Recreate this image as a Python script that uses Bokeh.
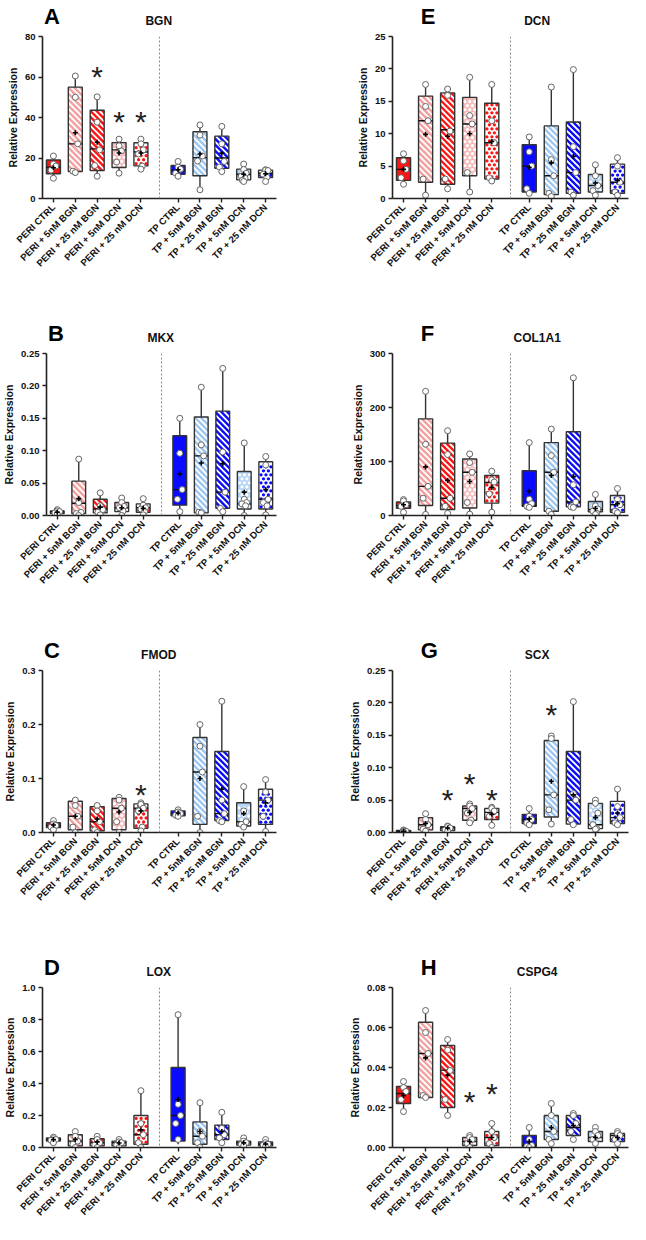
import math
from bokeh.plotting import figure
from bokeh.layouts import column, row
from bokeh.models import Range1d, FixedTicker, Span
from bokeh.core.properties import value
from bokeh.embed import file_html
from bokeh.resources import INLINE

groups = ["PERI CTRL", "PERI + 5nM BGN", "PERI + 25 nM BGN", "PERI + 5nM DCN", "PERI + 25 nM DCN",
          "TP CTRL", "TP + 5nM BGN", "TP + 25 nM BGN", "TP + 5nM DCN", "TP + 25 nM DCN"]

# ---------------- A: BGN ----------------
bgn_ticks = [0, 20, 40, 60, 80]
bgn_tick_labels = ["0", "20", "40", "60", "80"]
bgn_min = [10, 12.8, 11, 12.5, 14.5, 11, 4.3, 13.3, 8.4, 8.4]
bgn_q1 = [12.2, 13.3, 13.8, 15.3, 16.1, 12, 11.2, 14.9, 9.2, 10.4]
bgn_med = [15.5, 27, 24.5, 24, 23, 14, 20.2, 20, 12, 12.5]
bgn_q3 = [19, 55, 43.6, 27.6, 27.5, 16.3, 33, 30.8, 14.5, 14]
bgn_max = [21, 60.5, 50.2, 29.3, 29.3, 18.3, 36.3, 35.6, 17, 14.2]
bgn_mean = [15.2, 32.5, 27.8, 22.5, 22.5, 14.2, 22, 22.4, 12, 12.2]
bgn_pts = [[21, 17, 16, 14, 10], [60.5, 50, 27, 13.5, 12.8], [50.2, 37.7, 24, 16.3, 11],
           [29.3, 26, 23.5, 18, 12.5], [29.3, 27, 24, 22, 16, 14.5], [18.3, 15.5, 14.5, 12.5, 11],
           [36.3, 31.3, 21, 18.5, 4.3], [35.6, 27, 18.3, 15.5, 13.3], [17, 14.3, 12.5, 11, 10, 9, 8.4],
           [14.2, 14, 13.8, 12, 10.5, 8.4]]
bgn_star = [None, None, 64, 42, 42, None, None, None, None, None]

# ---------------- B: MKX ----------------
mkx_ticks = [0, 0.05, 0.10, 0.15, 0.20, 0.25]
mkx_tick_labels = ["0.00", "0.05", "0.10", "0.15", "0.20", "0.25"]
mkx_min = [0.002, 0.0, 0.001, 0.0, 0.001, 0.006, 0.004, 0.006, 0.0, 0.001]
mkx_q1 = [0.003, 0.003, 0.004, 0.006, 0.005, 0.016, 0.004, 0.011, 0.010, 0.010]
mkx_med = [0.006, 0.019, 0.010, 0.012, 0.012, 0.040, 0.092, 0.036, 0.018, 0.025]
mkx_q3 = [0.007, 0.053, 0.025, 0.020, 0.018, 0.123, 0.152, 0.161, 0.068, 0.083]
mkx_max = [0.009, 0.087, 0.035, 0.027, 0.026, 0.150, 0.198, 0.227, 0.112, 0.091]
mkx_mean = [0.005, 0.026, 0.013, 0.012, 0.011, 0.064, 0.081, 0.080, 0.036, 0.040]
mkx_pts = [[0.009, 0.007, 0.006, 0.004, 0.002], [0.087, 0.020, 0.005, 0.003, 0.0],
           [0.035, 0.015, 0.009, 0.005, 0.001], [0.027, 0.020, 0.014, 0.012, 0.007, 0.0],
           [0.026, 0.016, 0.012, 0.010, 0.006, 0.001], [0.150, 0.096, 0.040, 0.025, 0.006],
           [0.198, 0.109, 0.092, 0.005, 0.004], [0.227, 0.098, 0.036, 0.011, 0.006],
           [0.112, 0.025, 0.020, 0.018, 0.015, 0.0], [0.091, 0.078, 0.025, 0.020, 0.015, 0.001]]
mkx_star = [None] * 10

# ---------------- C: FMOD ----------------
fmod_ticks = [0, 0.1, 0.2, 0.3]
fmod_tick_labels = ["0.0", "0.1", "0.2", "0.3"]
fmod_min = [0.005, 0.000, 0.000, 0.000, 0.003, 0.030, 0.000, 0.020, 0.010, 0.002]
fmod_q1 = [0.009, 0.005, 0.003, 0.005, 0.008, 0.031, 0.015, 0.022, 0.012, 0.015]
fmod_med = [0.013, 0.030, 0.020, 0.045, 0.045, 0.035, 0.112, 0.035, 0.020, 0.060]
fmod_q3 = [0.018, 0.058, 0.048, 0.063, 0.053, 0.040, 0.176, 0.150, 0.055, 0.080]
fmod_max = [0.022, 0.060, 0.050, 0.065, 0.055, 0.042, 0.200, 0.243, 0.085, 0.098]
fmod_mean = [0.014, 0.030, 0.025, 0.038, 0.040, 0.036, 0.100, 0.080, 0.035, 0.055]
fmod_pts = [[0.022, 0.016, 0.013, 0.010, 0.005], [0.060, 0.050, 0.030, 0.010, 0.000],
            [0.050, 0.040, 0.020, 0.005, 0.000], [0.065, 0.060, 0.045, 0.020, 0.000],
            [0.055, 0.052, 0.045, 0.040, 0.010, 0.003], [0.042, 0.038, 0.035, 0.032, 0.030],
            [0.200, 0.160, 0.112, 0.030, 0.000], [0.243, 0.060, 0.035, 0.022, 0.020],
            [0.085, 0.040, 0.020, 0.015, 0.010], [0.098, 0.075, 0.060, 0.030, 0.002]]
fmod_star = [None, None, None, None, 0.085, None, None, None, None, None]

# ---------------- D: LOX ----------------
lox_ticks = [0, 0.2, 0.4, 0.6, 0.8, 1.0]
lox_tick_labels = ["0.0", "0.2", "0.4", "0.6", "0.8", "1.0"]
lox_min = [0.030, 0.000, 0.000, 0.000, 0.000, 0.020, 0.000, 0.030, 0.010, 0.005]
lox_q1 = [0.040, 0.010, 0.010, 0.010, 0.020, 0.040, 0.020, 0.050, 0.015, 0.010]
lox_med = [0.050, 0.040, 0.030, 0.030, 0.080, 0.200, 0.070, 0.080, 0.030, 0.020]
lox_q3 = [0.060, 0.080, 0.055, 0.040, 0.200, 0.500, 0.160, 0.140, 0.040, 0.035]
lox_max = [0.065, 0.100, 0.070, 0.050, 0.355, 0.830, 0.280, 0.220, 0.060, 0.050]
lox_mean = [0.050, 0.050, 0.035, 0.028, 0.110, 0.300, 0.100, 0.100, 0.030, 0.022]
lox_pts = [[0.065, 0.055, 0.050, 0.045, 0.030], [0.100, 0.070, 0.040, 0.020, 0.000],
           [0.070, 0.050, 0.030, 0.015, 0.000], [0.050, 0.035, 0.030, 0.015, 0.000],
           [0.355, 0.150, 0.080, 0.030, 0.000], [0.830, 0.270, 0.200, 0.150, 0.050],
           [0.280, 0.100, 0.070, 0.030, 0.000], [0.220, 0.120, 0.080, 0.060, 0.030],
           [0.060, 0.040, 0.030, 0.020, 0.010], [0.050, 0.030, 0.020, 0.015, 0.005]]
lox_star = [None] * 10

# ---------------- E: DCN ----------------
dcn_ticks = [0, 5, 10, 15, 20, 25]
dcn_tick_labels = ["0", "5", "10", "15", "20", "25"]
dcn_min = [2.2, 0.5, 1.5, 1.0, 2.7, 0.8, 0.3, 0.5, 0.5, 0.5]
dcn_q1 = [2.8, 2.5, 2.2, 3.5, 3.0, 1.0, 0.6, 0.8, 1.0, 0.8]
dcn_med = [4.5, 12.0, 10.6, 11.5, 8.6, 5.0, 3.5, 4.0, 2.0, 2.5]
dcn_q3 = [6.3, 15.8, 16.3, 15.6, 14.7, 8.3, 11.2, 11.8, 3.7, 5.3]
dcn_max = [6.9, 17.6, 16.9, 18.7, 17.6, 9.5, 17.2, 19.9, 5.2, 6.3]
dcn_mean = [4.5, 9.9, 9.6, 10.0, 8.8, 4.8, 5.5, 6.5, 2.4, 2.8]
dcn_pts = [[6.9, 5.8, 4.5, 3.2, 2.2], [17.6, 14.2, 12.0, 3.0, 0.5], [16.9, 15.9, 10.4, 3.0, 1.5],
           [18.7, 12.8, 11.5, 4.0, 1.0], [17.6, 12.0, 8.6, 3.2, 2.7], [9.5, 7.2, 5.0, 1.5, 0.8],
           [17.2, 6.0, 3.5, 0.8, 0.3], [19.9, 8.0, 4.0, 1.0, 0.5], [5.2, 3.5, 2.0, 1.2, 0.5],
           [6.3, 5.0, 2.5, 1.0, 0.5]]
dcn_star = [None] * 10

# ---------------- F: COL1A1 ----------------
col_ticks = [0, 100, 200, 300]
col_tick_labels = ["0", "100", "200", "300"]
col_min = [6, 2, 4, 2.5, 6, 15, 2, 15, 2, 5]
col_q1 = [13.5, 18.4, 11, 14, 23, 17, 8, 16, 7, 6]
col_med = [18, 54, 32, 80, 61, 18, 80, 25, 11, 20]
col_q3 = [25, 179, 134, 104.5, 74, 83, 135, 155, 26, 37]
col_max = [29.5, 230, 157, 114, 82, 135, 160, 255, 39, 50]
col_mean = [20, 90, 65, 63, 52, 45, 74, 72, 13, 22]
col_pts = [[29.5, 27, 20, 17, 6], [230, 132, 54, 32, 2], [157, 113, 32, 17, 4], [114, 98, 80, 24, 2.5],
           [82, 66, 62, 40, 6], [135, 30, 22, 17, 15], [160, 111, 80, 8, 2], [255, 57, 25, 16, 15],
           [39, 18, 12, 8, 4, 2], [50, 30, 20, 8, 5]]
col_star = [None] * 10

# ---------------- G: SCX ----------------
scx_ticks = [0, 0.05, 0.10, 0.15, 0.20, 0.25]
scx_tick_labels = ["0.00", "0.05", "0.10", "0.15", "0.20", "0.25"]
scx_min = [0.001, 0.002, 0.002, 0.015, 0.011, 0.012, 0.013, 0.012, 0.005, 0.012]
scx_q1 = [0.001, 0.004, 0.003, 0.019, 0.020, 0.014, 0.024, 0.013, 0.006, 0.014]
scx_med = [0.002, 0.012, 0.007, 0.037, 0.031, 0.020, 0.058, 0.050, 0.012, 0.023]
scx_q3 = [0.003, 0.023, 0.009, 0.041, 0.037, 0.028, 0.142, 0.125, 0.045, 0.048]
scx_max = [0.004, 0.029, 0.010, 0.044, 0.039, 0.037, 0.149, 0.202, 0.050, 0.067]
scx_mean = [0.002, 0.014, 0.007, 0.031, 0.028, 0.021, 0.079, 0.058, 0.023, 0.030]
scx_pts = [[0.004, 0.003, 0.002, 0.001, 0.001], [0.029, 0.020, 0.012, 0.005, 0.002],
           [0.010, 0.009, 0.007, 0.004, 0.002], [0.044, 0.041, 0.037, 0.030, 0.019, 0.015],
           [0.039, 0.037, 0.033, 0.025, 0.011], [0.037, 0.025, 0.020, 0.015, 0.012],
           [0.149, 0.145, 0.058, 0.035, 0.013], [0.202, 0.060, 0.050, 0.020, 0.012],
           [0.050, 0.045, 0.030, 0.012, 0.006, 0.005], [0.067, 0.040, 0.023, 0.015, 0.012]]
scx_star = [None, None, 0.063, 0.088, 0.063, None, 0.194, None, None, None]

# ---------------- H: CSPG4 ----------------
csp_ticks = [0, 0.02, 0.04, 0.06, 0.08]
csp_tick_labels = ["0.00", "0.02", "0.04", "0.06", "0.08"]
csp_min = [0.018, 0.025, 0.016, 0.000, 0.000, 0.000, 0.002, 0.004, 0.002, 0.002]
csp_q1 = [0.022, 0.025, 0.020, 0.001, 0.001, 0.0005, 0.004, 0.006, 0.003, 0.003]
csp_med = [0.027, 0.047, 0.0387, 0.003, 0.005, 0.001, 0.008, 0.010, 0.005, 0.006]
csp_q3 = [0.0305, 0.0626, 0.051, 0.005, 0.008, 0.006, 0.016, 0.016, 0.008, 0.007]
csp_max = [0.033, 0.0685, 0.054, 0.006, 0.012, 0.010, 0.022, 0.017, 0.010, 0.008]
csp_mean = [0.026, 0.0448, 0.0362, 0.003, 0.005, 0.003, 0.010, 0.011, 0.005, 0.005]
csp_pts = [[0.033, 0.030, 0.028, 0.024, 0.018], [0.0685, 0.0575, 0.047, 0.026, 0.025],
           [0.054, 0.0487, 0.0385, 0.024, 0.016], [0.006, 0.005, 0.004, 0.002, 0.0],
           [0.012, 0.008, 0.005, 0.002, 0.0], [0.010, 0.004, 0.001, 0.0005, 0.0],
           [0.022, 0.016, 0.008, 0.004, 0.002], [0.017, 0.016, 0.012, 0.008, 0.004],
           [0.010, 0.008, 0.006, 0.004, 0.002], [0.008, 0.007, 0.006, 0.004, 0.002]]
csp_star = [None, None, None, 0.027, 0.031, None, None, None, None, None]

# ---------------- layout / style ----------------
POS = [0, 1, 2, 3, 4, 5.7, 6.7, 7.7, 8.7, 9.7]
X_START, X_END = -0.5, 10.2
DIVIDER = 4.85
BOXW = 0.64
FONT = "Liberation Sans"
# base = box colour, kind = texture, pat = colour of the texture marks
STYLES = [
    dict(base="#ff1414", kind=None, pat=None),
    dict(base="#f4a0a0", kind="stripe", pat="#ffffff"),
    dict(base="#ff1414", kind="stripe", pat="#ffffff"),
    dict(base="#f6bcbc", kind="dot", pat="#ffffff"),
    dict(base="#ffffff", kind="dot", pat="#ff1414"),
    dict(base="#0a0aff", kind=None, pat=None),
    dict(base="#9cc6f0", kind="stripe", pat="#ffffff"),
    dict(base="#0a0aff", kind="stripe", pat="#ffffff"),
    dict(base="#b4d5f5", kind="dot", pat="#ffffff"),
    dict(base="#ffffff", kind="dot", pat="#0a0aff"),
]
OFFS = [0.0, 0.11, -0.11, 0.06, -0.06, 0.13, -0.13]
FRAME_H = 162
HEAD_H = 30
TOP_B = 6
LEFT_GEOM = dict(w=320, bl=42, br=44)
RIGHT_GEOM = dict(w=310, bl=72, br=2)


def header(letter, title, left_col):
    g = LEFT_GEOM if left_col else RIGHT_GEOM
    w = g["w"]
    h = figure(width=w, height=HEAD_H, x_range=Range1d(0, w), y_range=Range1d(0, HEAD_H),
               output_backend="svg", toolbar_location=None, tools="",
               x_axis_type=None, y_axis_type=None,
               min_border_left=0, min_border_right=0, min_border_top=0, min_border_bottom=0)
    h.outline_line_color = None
    h.grid.visible = False
    lx = 2 if left_col else 37
    h.text(x=[lx], y=[14], text=[letter], text_font=value(FONT), text_font_style="bold",
           text_font_size="22px", text_baseline="alphabetic", text_align="left", text_color="#000000")
    cx = g["bl"] + (w - g["bl"] - g["br"]) / 2
    h.text(x=[cx], y=[10], text=[title], text_font=value(FONT), text_font_style="bold",
           text_font_size="12px", text_baseline="alphabetic", text_align="center", text_color="#111111")
    return h


def add_stripes(p, xc, y0, y1, ppx, ppy, color, step=6.0, lw=1.9):
    W = BOXW * ppx
    H = (y1 - y0) * ppy
    xl = xc - BOXW / 2
    a0, b0, a1, b1 = [], [], [], []
    c = step * 0.5
    while c < W + H:
        lo = max(0.0, c - H)
        hi = min(W, c)
        if hi > lo:
            a0.append(xl + lo / ppx)
            b0.append(y0 + (c - lo) / ppy)
            a1.append(xl + hi / ppx)
            b1.append(y0 + (c - hi) / ppy)
        c += step
    if a0:
        p.segment(x0=a0, y0=b0, x1=a1, y1=b1, line_color=color, line_width=lw, line_cap="butt")


def add_dots(p, xc, y0, y1, ppx, ppy, color, sx=5.0, sy=4.0, size=3.3):
    W = BOXW * ppx
    H = (y1 - y0) * ppy
    xl = xc - BOXW / 2
    xs, ys = [], []
    r = 0
    py = 2.2
    while py < H - 1.2:
        px = 2.2 + (sx / 2 if r % 2 else 0.0)
        while px < W - 1.2:
            xs.append(xl + px / ppx)
            ys.append(y0 + py / ppy)
            px += sx
        py += sy
        r += 1
    if xs:
        p.scatter(x=xs, y=ys, size=size, fill_color=color, line_color=None)


def panel(ticks, tick_labels, mins, q1s, meds, q3s, maxs, means, pts, stars, left_col, height):
    g = LEFT_GEOM if left_col else RIGHT_GEOM
    top = ticks[-1]
    frame_w = g["w"] - g["bl"] - g["br"]
    ppx = frame_w / (X_END - X_START)
    ppy = FRAME_H / top
    p = figure(width=g["w"], height=height, x_range=Range1d(X_START, X_END), y_range=Range1d(0, top),
               output_backend="svg", toolbar_location=None, tools="",
               min_border_left=g["bl"], min_border_right=g["br"], min_border_top=TOP_B,
               min_border_bottom=height - TOP_B - FRAME_H)
    p.outline_line_color = None
    p.grid.visible = False
    p.background_fill_color = "white"
    p.border_fill_color = "white"

    for ax in (p.xaxis[0], p.yaxis[0]):
        ax.axis_line_width = 1.6
        ax.axis_line_color = "#222222"
        ax.major_tick_line_color = "#222222"
        ax.major_tick_line_width = 1.4
        ax.major_tick_out = 4
        ax.major_tick_in = 0
        ax.minor_tick_line_color = None
        ax.major_label_text_font = FONT
        ax.major_label_text_font_style = "bold"
        ax.major_label_text_font_size = "9.5px"
        ax.major_label_text_color = "#111111"
        ax.major_label_standoff = 3

    p.xaxis.ticker = FixedTicker(ticks=POS)
    p.xaxis.major_label_overrides = {pp: gname for pp, gname in zip(POS, groups)}
    p.xaxis.major_label_orientation = math.pi / 4

    p.yaxis.ticker = FixedTicker(ticks=ticks)
    p.yaxis.major_label_overrides = {t: s for t, s in zip(ticks, tick_labels)}
    p.yaxis.axis_label = "Relative Expression"
    p.yaxis.axis_label_text_font = FONT
    p.yaxis.axis_label_text_font_style = "bold"
    p.yaxis.axis_label_text_font_size = "10.5px"
    p.yaxis.axis_label_text_color = "#111111"
    p.yaxis.axis_label_standoff = 3

    p.add_layout(Span(location=DIVIDER, dimension="height", line_color="#8a8a8a",
                      line_dash="2 2", line_width=1))

    for i in range(10):
        x = POS[i]
        st = STYLES[i]
        p.segment(x0=[x, x], y0=[q3s[i], mins[i]], x1=[x, x], y1=[maxs[i], q1s[i]],
                  line_color="#333333", line_width=1.4)
        p.vbar(x=[x], width=BOXW, bottom=[q1s[i]], top=[q3s[i]], fill_color=st["base"],
               line_color=None)
        if st["kind"] == "stripe":
            add_stripes(p, x, q1s[i], q3s[i], ppx, ppy, st["pat"])
        elif st["kind"] == "dot":
            add_dots(p, x, q1s[i], q3s[i], ppx, ppy, st["pat"])
        p.vbar(x=[x], width=BOXW, bottom=[q1s[i]], top=[q3s[i]], fill_alpha=0,
               line_color="#333333", line_width=1.4)
        p.segment(x0=[x - BOXW / 2], y0=[meds[i]], x1=[x + BOXW / 2], y1=[meds[i]],
                  line_color="#111111", line_width=1.4)
        vals = pts[i]
        xs = []
        k = 0
        for v in vals:
            if v == max(vals) or v == min(vals):
                xs.append(x)
            else:
                xs.append(x + OFFS[k % len(OFFS)])
                k += 1
        p.scatter(x=xs, y=vals, size=6, fill_color="white", line_color="#666666", line_width=1)
        p.scatter(x=[x], y=[means[i]], marker="cross", size=5, line_color="#000000", line_width=1.6)
        if stars[i] is not None:
            p.text(x=[x], y=[stars[i]], text=["*"], text_font=value(FONT), text_font_size="30px",
                   text_align="center", text_baseline="middle", text_color="#222222", y_offset=8)
    return p


MAIN_H = [287, 287, 287, 243]

cells = []
specs = [
    ("A", "BGN", bgn_ticks, bgn_tick_labels, bgn_min, bgn_q1, bgn_med, bgn_q3, bgn_max, bgn_mean, bgn_pts, bgn_star, True, 0),
    ("E", "DCN", dcn_ticks, dcn_tick_labels, dcn_min, dcn_q1, dcn_med, dcn_q3, dcn_max, dcn_mean, dcn_pts, dcn_star, False, 0),
    ("B", "MKX", mkx_ticks, mkx_tick_labels, mkx_min, mkx_q1, mkx_med, mkx_q3, mkx_max, mkx_mean, mkx_pts, mkx_star, True, 1),
    ("F", "COL1A1", col_ticks, col_tick_labels, col_min, col_q1, col_med, col_q3, col_max, col_mean, col_pts, col_star, False, 1),
    ("C", "FMOD", fmod_ticks, fmod_tick_labels, fmod_min, fmod_q1, fmod_med, fmod_q3, fmod_max, fmod_mean, fmod_pts, fmod_star, True, 2),
    ("G", "SCX", scx_ticks, scx_tick_labels, scx_min, scx_q1, scx_med, scx_q3, scx_max, scx_mean, scx_pts, scx_star, False, 2),
    ("D", "LOX", lox_ticks, lox_tick_labels, lox_min, lox_q1, lox_med, lox_q3, lox_max, lox_mean, lox_pts, lox_star, True, 3),
    ("H", "CSPG4", csp_ticks, csp_tick_labels, csp_min, csp_q1, csp_med, csp_q3, csp_max, csp_mean, csp_pts, csp_star, False, 3),
]
for s in specs:
    letter, title = s[0], s[1]
    left_col, r = s[12], s[13]
    hd = header(letter, title, left_col)
    mp = panel(*s[2:12], left_col, MAIN_H[r])
    cells.append(column(hd, mp, spacing=0))

rows = [row(cells[2 * k], cells[2 * k + 1], spacing=0) for k in range(4)]
layout = column(*rows, spacing=0)
open("out.html", "w").write(file_html(layout, INLINE))
